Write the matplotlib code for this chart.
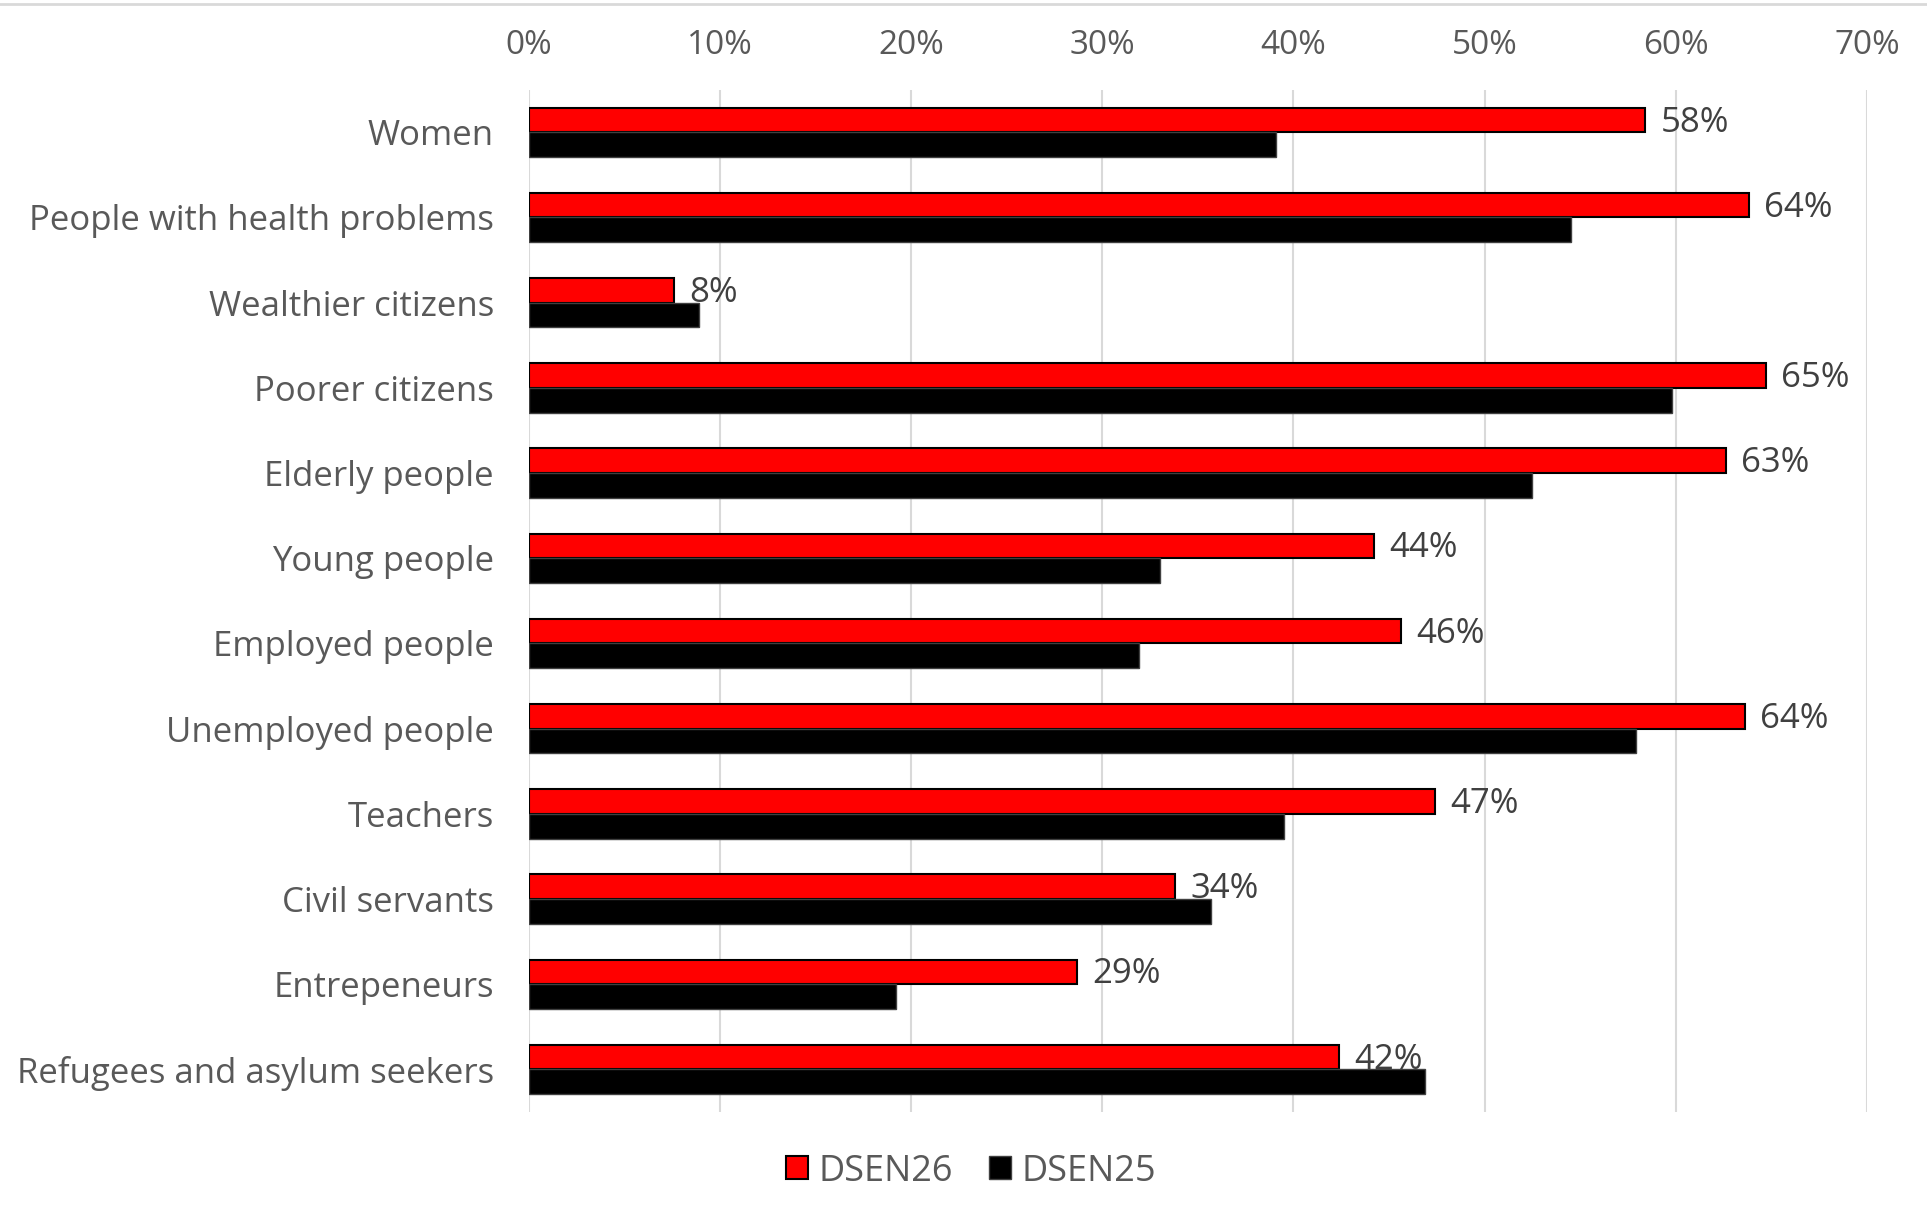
import matplotlib.pyplot as plt
import numpy as np
from matplotlib.lines import Line2D

categories = [
    "Women",
    "People with health problems",
    "Wealthier citizens",
    "Poorer citizens",
    "Elderly people",
    "Young people",
    "Employed people",
    "Unemployed people",
    "Teachers",
    "Civil servants",
    "Entrepeneurs",
    "Refugees and asylum seekers",
]
dsen26 = [58.4, 63.8, 7.6, 64.7, 62.6, 44.2, 45.6, 63.6, 47.4, 33.8, 28.7, 42.4]
dsen25 = [39.1, 54.5, 8.9, 59.8, 52.5, 33.0, 31.9, 57.9, 39.5, 35.7, 19.2, 46.9]
x_ticks = [0, 10, 20, 30, 40, 50, 60, 70]

plt.rcParams["font.family"] = ["Open Sans", "DejaVu Sans"]

fig = plt.figure(figsize=(19.27, 12.09), dpi=100)
ax = fig.add_axes([0.2743, 0.0802, 0.6946, 0.8456])

y = np.arange(len(categories))
h = 0.29

ax.barh(y - h / 2, dsen26, height=h, color="#ff0000",
        edgecolor="black", linewidth=1.5, label="DSEN26", zorder=3)
ax.barh(y + h / 2, dsen25, height=h, color="black",
        edgecolor="#404040", linewidth=1, label="DSEN25", zorder=3)

# data labels on the red bars only
for yi, v in zip(y, dsen26):
    ax.text(v + 0.8, yi - h / 2 + 0.03, f"{round(v)}%", va="center", ha="left",
            fontsize=25, color="#404040", zorder=4)

ax.set_xlim(0, 70)
ax.set_ylim(len(categories) - 0.5, -0.5)
ax.set_xticks(x_ticks)
ax.set_xticklabels([f"{t}%" for t in x_ticks])
ax.xaxis.tick_top()
ax.set_yticks(y)
ax.set_yticklabels(categories)
ax.tick_params(axis="x", length=0, pad=20, labelsize=24, labelcolor="#595959")
ax.tick_params(axis="y", length=0, pad=25, labelsize=25, labelcolor="#595959")
ax.grid(axis="x", color="#d9d9d9", linewidth=1.5, zorder=0)
for s in ax.spines.values():
    s.set_visible(False)

fig.legend(loc="center", bbox_to_anchor=(0.504, 0.031), ncol=2, frameon=False,
           fontsize=26, labelcolor="#595959", handlelength=0.6,
           handleheight=0.6, handletextpad=0.3, columnspacing=1.0)

# thin border line across the top of the chart
fig.add_artist(Line2D([0, 1], [0.9967, 0.9967], color="#d9d9d9", linewidth=2))

fig.savefig("out.png", dpi=100)
